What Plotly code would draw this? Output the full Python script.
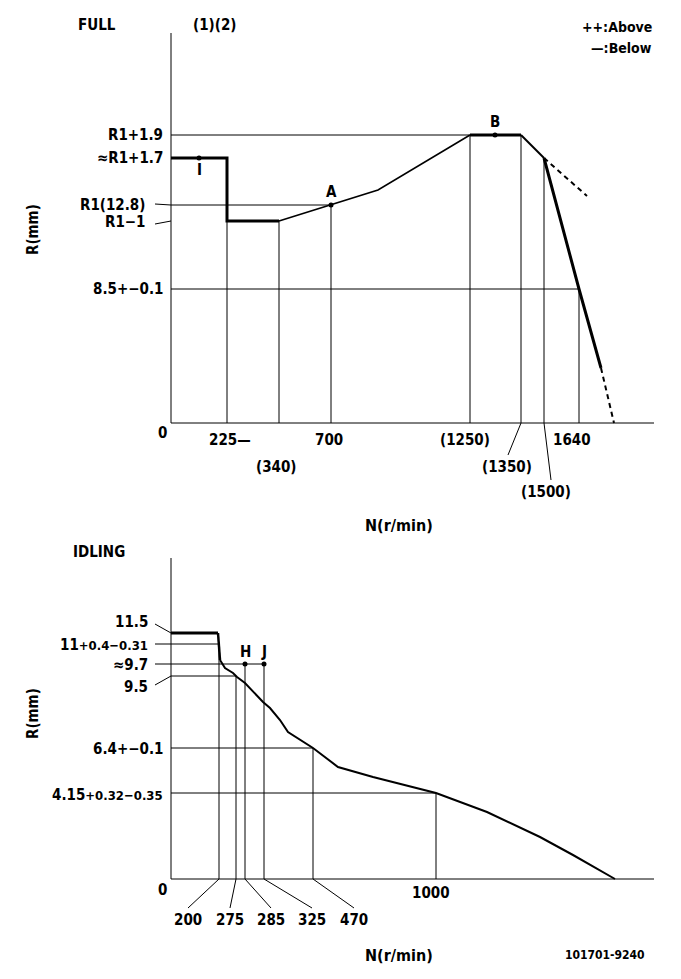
import plotly.graph_objects as go

# ---------------- FULL panel (schematic drawing units: x right of origin, y up from axis)
full_step_x = [0, 56, 56, 108]
full_step_y = [265, 265, 202, 202]
full_rise_x = [108, 160, 207, 299]
full_rise_y = [202, 218, 233, 288]
full_flat_x = [299, 350]
full_flat_y = [288, 288]
full_knee_x = [350, 373]
full_knee_y = [288, 265]
full_drop_x = [373, 408, 430]
full_drop_y = [265, 134, 55]
full_drop_dash_x = [430, 443]
full_drop_dash_y = [55, 0]
full_above_x = [373, 416]
full_above_y = [265, 227]
full_point_x = [28, 160, 324]
full_point_y = [265, 218, 288]
full_point_names = ["I", "A", "B"]

full_hline_y = [288, 218, 134]
full_hline_x0 = [0, -16, 0]
full_hline_x1 = [299, 160, 408]
full_vline_x = [56, 108, 160, 299, 350, 373, 408]
full_vline_top = [202, 202, 218, 288, 288, 265, 134]
full_n_labels = ["225—", "(340)", "700", "(1250)", "(1350)", "(1500)", "1640"]
full_r_labels = ["R1+1.9", "≈R1+1.7", "R1(12.8)", "R1−1", "8.5+−0.1"]
full_r_levels = [288, 265, 218, 201, 134]

# ---------------- IDLING panel
idle_flat_x = [0, 47]
idle_flat_y = [246, 246]
idle_drop_x = [47, 48, 49]
idle_drop_y = [246, 229, 219]
idle_curve_x = [49, 54, 62, 66, 74, 92, 99, 109, 117, 126, 142, 167, 202, 265, 316, 369, 402, 444]
idle_curve_y = [219, 211, 206, 202, 196, 177, 171, 159, 147, 141, 131, 112, 102, 86, 67, 42, 24, 0]
idle_point_x = [74, 93]
idle_point_y = [215, 215]
idle_point_names = ["H", "J"]

idle_hline_y = [235, 215, 203, 131, 86]
idle_hline_x0 = [-16, -16, 0, 0, 0]
idle_hline_x1 = [48, 93, 65, 142, 265]
idle_vline_x = [48, 65, 74, 93, 142, 265]
idle_vline_top = [235, 203, 215, 215, 131, 86]
idle_n_labels = ["200", "275", "285", "325", "470"]
idle_n_label_x = [17, 59, 100, 141, 183]
idle_r_labels = ["11.5", "11<span style='font-size:13px'>+0.4−0.31</span>", "≈9.7", "9.5",
                 "6.4+−0.1", "4.15<span style='font-size:13px'>+0.32−0.35</span>"]
idle_r_levels = [257, 234, 214, 192, 130, 84]

FONT = "DejaVu Sans Condensed"
BLACK = "#000000"
H_SPLIT = 538
W, H = 681, 979

fig = go.Figure()


def line(x, y, panel, width=1.0, dash=None):
    xa, ya = ("x", "y") if panel == 0 else ("x2", "y2")
    fig.add_trace(go.Scatter(x=x, y=y, mode="lines", xaxis=xa, yaxis=ya,
                             line=dict(color=BLACK, width=width, dash=dash),
                             hoverinfo="skip", showlegend=False))


def text(x, y, s, panel, size=15, xanchor="center", angle=0, bold=True):
    xr, yr = ("x", "y") if panel == 0 else ("x2", "y2")
    fig.add_annotation(x=x, y=y, xref=xr, yref=yr, text=s, showarrow=False,
                       xanchor=xanchor, yanchor="middle", textangle=angle,
                       font=dict(family=FONT, size=size, color=BLACK,
                                 weight="bold" if bold else "normal"))


# ---------- FULL panel
line([0, 483], [0, 0], 0)
line([0, 0], [0, 390], 0)
for y, a, b in zip(full_hline_y, full_hline_x0, full_hline_x1):
    line([max(a, 0), b], [y, y], 0)
line([-16, 0], [219, 218], 0)       # leader R1(12.8)
line([-16, 0], [199, 202], 0)       # leader R1-1
for x, t in zip(full_vline_x, full_vline_top):
    line([x, x], [0, t], 0)
line([350, 337], [0, -32], 0)       # leader (1350)
line([373, 380], [0, -57], 0)       # leader (1500)

line(full_step_x, full_step_y, 0, width=3)
line(full_rise_x, full_rise_y, 0, width=1.6)
line(full_flat_x, full_flat_y, 0, width=3)
line(full_knee_x, full_knee_y, 0, width=2)
line(full_drop_x, full_drop_y, 0, width=3)
line(full_drop_dash_x, full_drop_dash_y, 0, width=2, dash="5px,4px")
line(full_above_x, full_above_y, 0, width=2, dash="5px,4px")
fig.add_trace(go.Scatter(x=full_point_x, y=full_point_y, mode="markers",
                         marker=dict(color=BLACK, size=5), hoverinfo="skip",
                         showlegend=False, xaxis="x", yaxis="y"))

text(28, 253, full_point_names[0], 0)
text(160, 231, full_point_names[1], 0)
text(324, 301, full_point_names[2], 0)

r_right = [-6, -6, -24, -24, -6]
for s, y, r in zip(full_r_labels, full_r_levels, r_right):
    text(r, y, s, 0, xanchor="right")
text(-9, -10, "0", 0)
n_pos = [(59, -17), (105, -44), (158, -17), (294, -17), (336, -44), (375, -69), (401, -17)]
for s, (x, y) in zip(full_n_labels, n_pos):
    text(x, y, s, 0)
text(228, -102, "N(r/min)", 0, size=16)
text(-138, 193, "R(mm)", 0, angle=-90)
text(-74, 398, "FULL", 0)
text(43, 398, "(1)(2)", 0)
text(483, 396, "++:Above", 0, size=14, xanchor="right")
text(483, 375, "—:Below", 0, size=14, xanchor="right")

# ---------- IDLING panel
line([0, 483], [0, 0], 1)
line([0, 0], [0, 321], 1)
for y, a, b in zip(idle_hline_y, idle_hline_x0, idle_hline_x1):
    line([a, b], [y, y], 1)
line([-16, 0], [255, 246], 1)       # leader 11.5
line([-16, 0], [194, 203], 1)       # leader 9.5
for x, t in zip(idle_vline_x, idle_vline_top):
    line([x, x], [0, t], 1)
for x0, xl in zip(idle_vline_x[:5], idle_n_label_x):
    line([x0, xl], [0, -29], 1)

line(idle_flat_x, idle_flat_y, 1, width=3)
line(idle_drop_x, idle_drop_y, 1, width=2.5)
line(idle_curve_x, idle_curve_y, 1, width=2)
fig.add_trace(go.Scatter(x=idle_point_x, y=idle_point_y, mode="markers",
                         marker=dict(color=BLACK, size=5), hoverinfo="skip",
                         showlegend=False, xaxis="x2", yaxis="y2"))
for x, s in zip(idle_point_x, idle_point_names):
    text(x, 227, s, 1)

i_right = [-21, -21, -21, -21, -6, -6]
for s, y, r in zip(idle_r_labels, idle_r_levels, i_right):
    text(r, y, s, 1, xanchor="right")
text(-9, -11, "0", 1)
text(260, -14, "1000", 1)
for s, x in zip(idle_n_labels, idle_n_label_x):
    text(x, -41, s, 1)
text(228, -76, "N(r/min)", 1, size=16)
text(476, -76, "101701-9240", 1, size=12, xanchor="right")
text(-138, 165, "R(mm)", 1, angle=-90)
text(-72, 327, "IDLING", 1)

split = 1 - H_SPLIT / H
ax_common = dict(visible=False, showgrid=False, zeroline=False, fixedrange=True)
fig.update_layout(
    width=W, height=H, autosize=False,
    margin=dict(l=0, r=0, t=0, b=0, pad=0),
    paper_bgcolor="white", plot_bgcolor="white",
    showlegend=False,
    xaxis=dict(range=[-171, 510], domain=[0, 1], anchor="y", **ax_common),
    yaxis=dict(range=[-115, 423], domain=[split, 1], anchor="x", **ax_common),
    xaxis2=dict(range=[-171, 510], domain=[0, 1], anchor="y2", **ax_common),
    yaxis2=dict(range=[-100, 341], domain=[0, split], anchor="x2", **ax_common),
)

fig.write_html("out.html")
